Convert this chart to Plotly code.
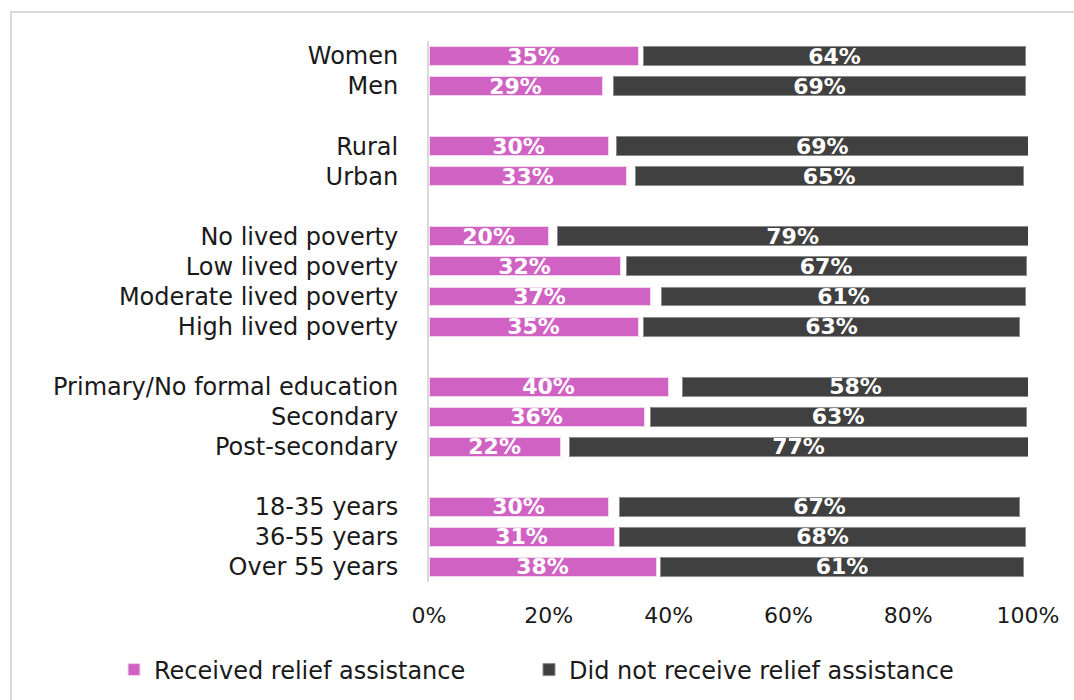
import plotly.graph_objects as go

categories = ["Women", "Men", " ", "Rural", "Urban", "  ",
              "No lived poverty", "Low lived poverty", "Moderate lived poverty", "High lived poverty", "   ",
              "Primary/No formal education", "Secondary", "Post-secondary", "    ",
              "18-35 years", "36-55 years", "Over 55 years"]

received = [34.9, 28.9, None, 29.9, 32.9, None,
            19.9, 31.9, 36.9, 34.9, None,
            39.9, 35.9, 21.9, None,
            29.9, 30.9, 37.9]
dont_know = [0.9, 1.9, None, 1.4, 1.5, None,
             1.5, 1.0, 1.9, 0.9, None,
             2.5, 1.0, 1.5, None,
             1.9, 0.9, 0.7]
not_received = [63.8, 68.8, None, 68.7, 64.8, None,
                78.6, 66.8, 60.8, 62.8, None,
                57.6, 62.8, 76.6, None,
                66.8, 67.8, 60.7]

x_ticks = [0, 20, 40, 60, 80, 100]
x_tick_labels = ["0%", "20%", "40%", "60%", "80%", "100%"]

PINK = "#D062C4"
DARK = "#404040"
FONT = "DejaVu Sans"
TXT = "#1a1a1a"

def lab(vals):
    return [("" if v is None else f"{int(v + 0.5):d}%") for v in vals]

fig = go.Figure()
fig.add_trace(go.Bar(
    y=categories, x=received, orientation="h", name="Received relief assistance",
    marker=dict(color=PINK, line=dict(color="#F2D6EF", width=1)),
    text=lab(received), textposition="inside", insidetextanchor="middle",
    textfont=dict(color="white", size=22, family=FONT, weight="bold"),
    constraintext="none", hoverinfo="skip", legend="legend",
))
fig.add_trace(go.Bar(
    y=categories, x=dont_know, orientation="h", name="Don't know",
    marker=dict(color="rgba(0,0,0,0)", line=dict(width=0)),
    showlegend=False, hoverinfo="skip",
))
fig.add_trace(go.Bar(
    y=categories, x=not_received, orientation="h", name="Did not receive relief assistance",
    marker=dict(color=DARK, line=dict(color="#8C8C8C", width=1)),
    text=lab(not_received), textposition="inside", insidetextanchor="middle",
    textfont=dict(color="white", size=22, family=FONT, weight="bold"),
    constraintext="none", hoverinfo="skip", legend="legend2",
))

L, R = 428.5, 1028.3
T, B = 41, 582
W, H = 1074, 700
pw, ph = R - L, B - T

leg_common = dict(orientation="h", xref="container", yref="container",
                  xanchor="left", y=(H - 670) / H, yanchor="middle",
                  font=dict(size=24, color=TXT), bgcolor="rgba(0,0,0,0)")

fig.update_layout(
    width=W, height=H, barmode="stack", bargap=0.37,
    margin=dict(l=L, r=W - R, t=T, b=H - B, autoexpand=False),
    plot_bgcolor="white", paper_bgcolor="white",
    font=dict(family=FONT, size=23, color=TXT),
    xaxis=dict(range=[0, 100], tickvals=x_ticks, ticktext=x_tick_labels,
               showgrid=False, zeroline=False, showline=False, ticks="",
               ticklabelstandoff=18, tickfont=dict(size=22, color=TXT)),
    yaxis=dict(categoryorder="array", categoryarray=categories, autorange="reversed",
               showgrid=False, showline=True, linecolor="#D9D9D9", linewidth=2,
               ticks="", ticklabelstandoff=24, tickfont=dict(size=24, color=TXT)),
    legend=dict(x=114 / W, **leg_common),
    legend2=dict(x=529 / W, **leg_common),
    shapes=[dict(type="rect", xref="paper", yref="paper",
                 x0=(10 - L) / pw, x1=1.2, y0=-0.4, y1=(B - 12) / ph,
                 line=dict(color="#D9D9D9", width=2), fillcolor="rgba(0,0,0,0)", layer="below")],
)

fig.write_html("out.html")
